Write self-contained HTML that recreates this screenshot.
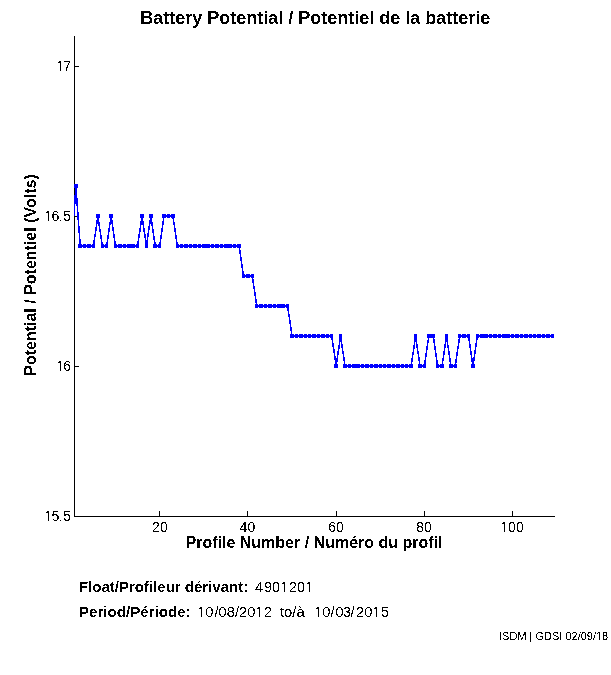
<!DOCTYPE html>
<html><head><meta charset="utf-8"><style>
html,body{margin:0;padding:0;background:#fff;}
body{width:611px;height:675px;overflow:hidden;position:relative;}
svg{position:absolute;left:0;top:0;display:block;}
text{font-family:"Liberation Sans",sans-serif;fill:#000;}
.b{font-weight:bold;}
</style></head><body>
<svg width="611" height="675" viewBox="0 0 611 675">
<defs>
<filter id="th" filterUnits="userSpaceOnUse" x="0" y="0" width="611" height="675" color-interpolation-filters="sRGB"><feComponentTransfer><feFuncA type="discrete" tableValues="0 1"/></feComponentTransfer></filter>
<mask id="nf" maskUnits="userSpaceOnUse" x="0" y="0" width="611" height="675"><rect width="611" height="675" fill="#fff"/><rect x="500.06" y="530.65" width="3.82" height="1.85" fill="#000"/><rect x="505.12" y="530.65" width="3.03" height="1.85" fill="#000"/><rect x="56.06" y="69.65" width="3.82" height="1.85" fill="#000"/><rect x="61.12" y="69.65" width="3.03" height="1.85" fill="#000"/><rect x="44.06" y="219.65" width="3.82" height="1.85" fill="#000"/><rect x="49.12" y="219.65" width="3.03" height="1.85" fill="#000"/><rect x="56.06" y="369.65" width="3.82" height="1.85" fill="#000"/><rect x="61.12" y="369.65" width="3.03" height="1.85" fill="#000"/><rect x="44.06" y="519.65" width="3.82" height="1.85" fill="#000"/><rect x="49.12" y="519.65" width="3.03" height="1.85" fill="#000"/><rect x="279.94" y="590.65" width="3.92" height="1.85" fill="#000"/><rect x="285.13" y="590.65" width="3.11" height="1.85" fill="#000"/><rect x="304.94" y="590.65" width="3.92" height="1.85" fill="#000"/><rect x="310.13" y="590.65" width="3.11" height="1.85" fill="#000"/><rect x="196.82" y="615.65" width="4.02" height="1.85" fill="#000"/><rect x="202.15" y="615.65" width="3.20" height="1.85" fill="#000"/><rect x="254.82" y="615.65" width="4.02" height="1.85" fill="#000"/><rect x="260.15" y="615.65" width="3.20" height="1.85" fill="#000"/><rect x="313.82" y="615.65" width="4.02" height="1.85" fill="#000"/><rect x="319.15" y="615.65" width="3.20" height="1.85" fill="#000"/><rect x="371.82" y="615.65" width="4.02" height="1.85" fill="#000"/><rect x="377.15" y="615.65" width="3.20" height="1.85" fill="#000"/><rect x="595.95" y="638.65" width="3.07" height="1.85" fill="#000"/><rect x="599.99" y="638.65" width="2.38" height="1.85" fill="#000"/></mask>
</defs>
<rect width="611" height="675" fill="#fff"/>
<g shape-rendering="crispEdges">
<path d="M74 36h1v481h-1zM74 516h481v1h-481zM159 511h1v5h-1zM247 511h1v5h-1zM336 511h1v5h-1zM424 511h1v5h-1zM512 511h1v5h-1zM75 66h4v1h-4zM75 216h4v1h-4zM75 366h4v1h-4zM75 516h4v1h-4z" fill="#000"/>
<path d="M74 184h4v1h-4zM74 185h4v1h-4zM74 186h4v1h-4zM74 187h4v1h-4zM75 188h2v1h-2zM75 189h2v1h-2zM75 190h2v1h-2zM75 191h2v1h-2zM75 192h2v1h-2zM75 193h2v1h-2zM75 194h2v1h-2zM74 195h3v1h-3zM74 196h3v1h-3zM74 197h3v1h-3zM74 198h4v1h-4zM74 199h4v1h-4zM74 200h4v1h-4zM74 201h4v1h-4zM74 202h4v1h-4zM74 203h4v1h-4zM74 204h1v1h-1zM76 204h2v1h-2zM74 205h1v1h-1zM76 205h2v1h-2zM74 206h1v1h-1zM77 206h1v1h-1zM74 207h1v1h-1zM77 207h1v1h-1zM74 208h1v1h-1zM77 208h1v1h-1zM74 209h1v1h-1zM77 209h1v1h-1zM74 210h1v1h-1zM77 210h1v1h-1zM74 211h1v1h-1zM77 211h1v1h-1zM74 212h1v1h-1zM77 212h2v1h-2zM74 213h1v1h-1zM77 213h2v1h-2zM74 214h1v1h-1zM77 214h2v1h-2zM96 214h4v1h-4zM109 214h4v1h-4zM140 214h4v1h-4zM149 214h4v1h-4zM162 214h4v1h-4zM167 214h3v1h-3zM171 214h4v1h-4zM74 215h1v1h-1zM77 215h2v1h-2zM96 215h4v1h-4zM109 215h4v1h-4zM140 215h4v1h-4zM149 215h4v1h-4zM162 215h13v1h-13zM77 216h2v1h-2zM96 216h4v1h-4zM109 216h4v1h-4zM140 216h4v1h-4zM149 216h4v1h-4zM162 216h13v1h-13zM77 217h2v1h-2zM96 217h4v1h-4zM109 217h4v1h-4zM140 217h4v1h-4zM149 217h4v1h-4zM162 217h4v1h-4zM167 217h3v1h-3zM171 217h4v1h-4zM77 218h2v1h-2zM97 218h2v1h-2zM110 218h2v1h-2zM141 218h2v1h-2zM150 218h2v1h-2zM163 218h1v1h-1zM172 218h2v1h-2zM77 219h2v1h-2zM97 219h2v1h-2zM110 219h2v1h-2zM141 219h2v1h-2zM150 219h2v1h-2zM163 219h1v1h-1zM173 219h1v1h-1zM78 220h1v1h-1zM96 220h3v1h-3zM110 220h3v1h-3zM141 220h2v1h-2zM149 220h3v1h-3zM163 220h1v1h-1zM173 220h1v1h-1zM78 221h1v1h-1zM96 221h3v1h-3zM110 221h3v1h-3zM140 221h4v1h-4zM149 221h3v1h-3zM162 221h2v1h-2zM173 221h1v1h-1zM78 222h1v1h-1zM96 222h4v1h-4zM109 222h4v1h-4zM140 222h4v1h-4zM149 222h4v1h-4zM162 222h2v1h-2zM173 222h2v1h-2zM78 223h1v1h-1zM96 223h4v1h-4zM109 223h4v1h-4zM140 223h4v1h-4zM149 223h4v1h-4zM162 223h2v1h-2zM173 223h2v1h-2zM78 224h1v1h-1zM96 224h1v1h-1zM98 224h2v1h-2zM109 224h2v1h-2zM112 224h1v1h-1zM140 224h4v1h-4zM149 224h1v1h-1zM151 224h2v1h-2zM162 224h2v1h-2zM173 224h2v1h-2zM78 225h1v1h-1zM96 225h1v1h-1zM98 225h2v1h-2zM109 225h1v1h-1zM112 225h1v1h-1zM140 225h1v1h-1zM143 225h1v1h-1zM149 225h1v1h-1zM151 225h2v1h-2zM162 225h1v1h-1zM174 225h1v1h-1zM78 226h2v1h-2zM96 226h1v1h-1zM99 226h1v1h-1zM109 226h1v1h-1zM112 226h1v1h-1zM140 226h1v1h-1zM143 226h1v1h-1zM148 226h2v1h-2zM152 226h1v1h-1zM162 226h1v1h-1zM174 226h1v1h-1zM78 227h2v1h-2zM95 227h2v1h-2zM99 227h1v1h-1zM109 227h1v1h-1zM112 227h2v1h-2zM140 227h1v1h-1zM143 227h1v1h-1zM148 227h2v1h-2zM152 227h1v1h-1zM162 227h1v1h-1zM174 227h1v1h-1zM78 228h2v1h-2zM95 228h2v1h-2zM99 228h1v1h-1zM108 228h2v1h-2zM112 228h2v1h-2zM139 228h2v1h-2zM143 228h2v1h-2zM148 228h2v1h-2zM152 228h1v1h-1zM161 228h2v1h-2zM174 228h2v1h-2zM78 229h2v1h-2zM95 229h2v1h-2zM99 229h2v1h-2zM108 229h2v1h-2zM112 229h2v1h-2zM139 229h2v1h-2zM143 229h2v1h-2zM148 229h2v1h-2zM152 229h2v1h-2zM161 229h2v1h-2zM174 229h2v1h-2zM78 230h2v1h-2zM95 230h2v1h-2zM99 230h2v1h-2zM108 230h2v1h-2zM112 230h2v1h-2zM139 230h2v1h-2zM143 230h2v1h-2zM148 230h1v1h-1zM152 230h2v1h-2zM161 230h2v1h-2zM174 230h2v1h-2zM78 231h2v1h-2zM95 231h1v1h-1zM99 231h2v1h-2zM108 231h2v1h-2zM113 231h1v1h-1zM139 231h2v1h-2zM143 231h2v1h-2zM148 231h1v1h-1zM152 231h2v1h-2zM161 231h2v1h-2zM174 231h2v1h-2zM78 232h2v1h-2zM95 232h1v1h-1zM100 232h1v1h-1zM108 232h1v1h-1zM113 232h1v1h-1zM139 232h1v1h-1zM144 232h1v1h-1zM148 232h1v1h-1zM152 232h2v1h-2zM161 232h1v1h-1zM175 232h1v1h-1zM79 233h1v1h-1zM95 233h1v1h-1zM100 233h1v1h-1zM108 233h1v1h-1zM113 233h1v1h-1zM139 233h1v1h-1zM144 233h1v1h-1zM147 233h2v1h-2zM153 233h1v1h-1zM161 233h1v1h-1zM175 233h1v1h-1zM79 234h1v1h-1zM94 234h2v1h-2zM100 234h1v1h-1zM108 234h1v1h-1zM113 234h2v1h-2zM138 234h2v1h-2zM144 234h2v1h-2zM147 234h2v1h-2zM153 234h1v1h-1zM161 234h1v1h-1zM175 234h1v1h-1zM79 235h1v1h-1zM94 235h2v1h-2zM100 235h2v1h-2zM107 235h2v1h-2zM113 235h2v1h-2zM138 235h2v1h-2zM144 235h2v1h-2zM147 235h2v1h-2zM153 235h1v1h-1zM160 235h2v1h-2zM175 235h2v1h-2zM79 236h1v1h-1zM94 236h2v1h-2zM100 236h2v1h-2zM107 236h2v1h-2zM113 236h2v1h-2zM138 236h2v1h-2zM144 236h2v1h-2zM147 236h2v1h-2zM153 236h2v1h-2zM160 236h2v1h-2zM175 236h2v1h-2zM79 237h1v1h-1zM94 237h1v1h-1zM100 237h2v1h-2zM107 237h2v1h-2zM113 237h2v1h-2zM138 237h2v1h-2zM144 237h2v1h-2zM147 237h1v1h-1zM153 237h2v1h-2zM160 237h2v1h-2zM175 237h2v1h-2zM79 238h1v1h-1zM94 238h1v1h-1zM100 238h2v1h-2zM107 238h2v1h-2zM114 238h1v1h-1zM138 238h1v1h-1zM145 238h1v1h-1zM147 238h1v1h-1zM153 238h2v1h-2zM160 238h2v1h-2zM175 238h2v1h-2zM79 239h2v1h-2zM94 239h1v1h-1zM101 239h1v1h-1zM107 239h1v1h-1zM114 239h1v1h-1zM138 239h1v1h-1zM145 239h1v1h-1zM147 239h1v1h-1zM153 239h2v1h-2zM160 239h1v1h-1zM176 239h1v1h-1zM79 240h2v1h-2zM93 240h2v1h-2zM101 240h1v1h-1zM107 240h1v1h-1zM114 240h1v1h-1zM138 240h1v1h-1zM145 240h3v1h-3zM154 240h1v1h-1zM160 240h1v1h-1zM176 240h1v1h-1zM79 241h2v1h-2zM93 241h2v1h-2zM101 241h1v1h-1zM107 241h1v1h-1zM114 241h2v1h-2zM137 241h2v1h-2zM145 241h3v1h-3zM154 241h1v1h-1zM160 241h1v1h-1zM176 241h1v1h-1zM79 242h2v1h-2zM93 242h2v1h-2zM101 242h2v1h-2zM106 242h2v1h-2zM114 242h2v1h-2zM137 242h2v1h-2zM145 242h3v1h-3zM154 242h2v1h-2zM159 242h2v1h-2zM176 242h2v1h-2zM79 243h2v1h-2zM93 243h2v1h-2zM101 243h2v1h-2zM106 243h2v1h-2zM114 243h2v1h-2zM137 243h2v1h-2zM145 243h3v1h-3zM154 243h2v1h-2zM159 243h2v1h-2zM176 243h2v1h-2zM78 244h4v1h-4zM83 244h3v1h-3zM87 244h4v1h-4zM92 244h3v1h-3zM101 244h3v1h-3zM105 244h3v1h-3zM114 244h3v1h-3zM118 244h4v1h-4zM123 244h3v1h-3zM127 244h8v1h-8zM136 244h3v1h-3zM145 244h3v1h-3zM153 244h4v1h-4zM158 244h3v1h-3zM176 244h3v1h-3zM180 244h3v1h-3zM184 244h4v1h-4zM189 244h3v1h-3zM193 244h4v1h-4zM198 244h3v1h-3zM202 244h8v1h-8zM211 244h3v1h-3zM215 244h4v1h-4zM220 244h3v1h-3zM224 244h8v1h-8zM233 244h3v1h-3zM237 244h4v1h-4zM78 245h17v1h-17zM101 245h7v1h-7zM114 245h25v1h-25zM145 245h3v1h-3zM153 245h8v1h-8zM176 245h65v1h-65zM78 246h17v1h-17zM101 246h7v1h-7zM114 246h25v1h-25zM145 246h3v1h-3zM153 246h8v1h-8zM176 246h65v1h-65zM78 247h4v1h-4zM83 247h3v1h-3zM87 247h4v1h-4zM92 247h3v1h-3zM101 247h3v1h-3zM105 247h3v1h-3zM114 247h3v1h-3zM118 247h4v1h-4zM123 247h3v1h-3zM127 247h8v1h-8zM136 247h3v1h-3zM145 247h3v1h-3zM153 247h4v1h-4zM158 247h3v1h-3zM176 247h3v1h-3zM180 247h3v1h-3zM184 247h4v1h-4zM189 247h3v1h-3zM193 247h4v1h-4zM198 247h3v1h-3zM202 247h8v1h-8zM211 247h3v1h-3zM215 247h4v1h-4zM220 247h3v1h-3zM224 247h8v1h-8zM233 247h3v1h-3zM237 247h4v1h-4zM239 248h1v1h-1zM239 249h1v1h-1zM239 250h2v1h-2zM239 251h2v1h-2zM239 252h2v1h-2zM239 253h2v1h-2zM240 254h1v1h-1zM240 255h1v1h-1zM240 256h1v1h-1zM240 257h2v1h-2zM240 258h2v1h-2zM240 259h2v1h-2zM240 260h2v1h-2zM241 261h1v1h-1zM241 262h1v1h-1zM241 263h1v1h-1zM241 264h2v1h-2zM241 265h2v1h-2zM241 266h2v1h-2zM241 267h2v1h-2zM242 268h1v1h-1zM242 269h1v1h-1zM242 270h1v1h-1zM242 271h2v1h-2zM242 272h2v1h-2zM242 273h2v1h-2zM242 274h3v1h-3zM246 274h4v1h-4zM251 274h3v1h-3zM242 275h12v1h-12zM242 276h12v1h-12zM242 277h3v1h-3zM246 277h4v1h-4zM251 277h3v1h-3zM252 278h1v1h-1zM252 279h2v1h-2zM252 280h2v1h-2zM252 281h2v1h-2zM252 282h2v1h-2zM253 283h1v1h-1zM253 284h1v1h-1zM253 285h1v1h-1zM253 286h2v1h-2zM253 287h2v1h-2zM253 288h2v1h-2zM254 289h1v1h-1zM254 290h1v1h-1zM254 291h1v1h-1zM254 292h2v1h-2zM254 293h2v1h-2zM254 294h2v1h-2zM254 295h2v1h-2zM255 296h1v1h-1zM255 297h1v1h-1zM255 298h1v1h-1zM255 299h2v1h-2zM255 300h2v1h-2zM255 301h2v1h-2zM255 302h2v1h-2zM256 303h1v1h-1zM255 304h3v1h-3zM259 304h4v1h-4zM264 304h3v1h-3zM268 304h4v1h-4zM273 304h3v1h-3zM277 304h8v1h-8zM286 304h3v1h-3zM255 305h34v1h-34zM255 306h34v1h-34zM255 307h3v1h-3zM259 307h4v1h-4zM264 307h3v1h-3zM268 307h4v1h-4zM273 307h3v1h-3zM277 307h8v1h-8zM286 307h3v1h-3zM287 308h2v1h-2zM287 309h2v1h-2zM287 310h2v1h-2zM288 311h1v1h-1zM288 312h1v1h-1zM288 313h1v1h-1zM288 314h2v1h-2zM288 315h2v1h-2zM288 316h2v1h-2zM289 317h1v1h-1zM289 318h1v1h-1zM289 319h1v1h-1zM289 320h2v1h-2zM289 321h2v1h-2zM289 322h2v1h-2zM289 323h2v1h-2zM290 324h1v1h-1zM290 325h1v1h-1zM290 326h1v1h-1zM290 327h2v1h-2zM290 328h2v1h-2zM290 329h2v1h-2zM290 330h2v1h-2zM291 331h1v1h-1zM291 332h1v1h-1zM291 333h1v1h-1zM290 334h4v1h-4zM295 334h3v1h-3zM299 334h4v1h-4zM304 334h3v1h-3zM308 334h3v1h-3zM312 334h4v1h-4zM317 334h3v1h-3zM321 334h4v1h-4zM326 334h3v1h-3zM330 334h3v1h-3zM339 334h3v1h-3zM414 334h3v1h-3zM427 334h8v1h-8zM445 334h3v1h-3zM458 334h3v1h-3zM462 334h4v1h-4zM467 334h3v1h-3zM476 334h3v1h-3zM480 334h8v1h-8zM489 334h3v1h-3zM493 334h4v1h-4zM498 334h3v1h-3zM502 334h8v1h-8zM511 334h3v1h-3zM515 334h4v1h-4zM520 334h3v1h-3zM524 334h4v1h-4zM529 334h3v1h-3zM533 334h3v1h-3zM537 334h4v1h-4zM542 334h3v1h-3zM546 334h4v1h-4zM551 334h3v1h-3zM290 335h43v1h-43zM339 335h3v1h-3zM414 335h3v1h-3zM427 335h8v1h-8zM445 335h3v1h-3zM458 335h12v1h-12zM476 335h78v1h-78zM290 336h43v1h-43zM339 336h3v1h-3zM414 336h3v1h-3zM427 336h8v1h-8zM445 336h3v1h-3zM458 336h12v1h-12zM476 336h78v1h-78zM290 337h4v1h-4zM295 337h3v1h-3zM299 337h4v1h-4zM304 337h3v1h-3zM308 337h3v1h-3zM312 337h4v1h-4zM317 337h3v1h-3zM321 337h4v1h-4zM326 337h3v1h-3zM330 337h3v1h-3zM339 337h3v1h-3zM414 337h3v1h-3zM427 337h8v1h-8zM445 337h3v1h-3zM458 337h3v1h-3zM462 337h4v1h-4zM467 337h3v1h-3zM476 337h3v1h-3zM480 337h8v1h-8zM489 337h3v1h-3zM493 337h4v1h-4zM498 337h3v1h-3zM502 337h8v1h-8zM511 337h3v1h-3zM515 337h4v1h-4zM520 337h3v1h-3zM524 337h4v1h-4zM529 337h3v1h-3zM533 337h3v1h-3zM537 337h4v1h-4zM542 337h3v1h-3zM546 337h4v1h-4zM551 337h3v1h-3zM331 338h2v1h-2zM339 338h3v1h-3zM414 338h3v1h-3zM428 338h1v1h-1zM433 338h1v1h-1zM445 338h3v1h-3zM459 338h1v1h-1zM468 338h2v1h-2zM476 338h2v1h-2zM331 339h2v1h-2zM339 339h3v1h-3zM414 339h3v1h-3zM428 339h1v1h-1zM433 339h2v1h-2zM445 339h3v1h-3zM458 339h2v1h-2zM468 339h2v1h-2zM476 339h2v1h-2zM332 340h1v1h-1zM339 340h3v1h-3zM414 340h3v1h-3zM427 340h2v1h-2zM433 340h2v1h-2zM445 340h3v1h-3zM458 340h2v1h-2zM468 340h2v1h-2zM476 340h1v1h-1zM332 341h1v1h-1zM339 341h3v1h-3zM414 341h3v1h-3zM427 341h2v1h-2zM433 341h2v1h-2zM445 341h3v1h-3zM458 341h2v1h-2zM469 341h1v1h-1zM476 341h1v1h-1zM332 342h1v1h-1zM339 342h1v1h-1zM341 342h1v1h-1zM414 342h1v1h-1zM416 342h1v1h-1zM427 342h2v1h-2zM433 342h2v1h-2zM445 342h1v1h-1zM447 342h1v1h-1zM458 342h2v1h-2zM469 342h1v1h-1zM476 342h1v1h-1zM332 343h2v1h-2zM339 343h1v1h-1zM341 343h1v1h-1zM414 343h1v1h-1zM416 343h1v1h-1zM427 343h1v1h-1zM434 343h1v1h-1zM445 343h1v1h-1zM447 343h1v1h-1zM458 343h1v1h-1zM469 343h1v1h-1zM475 343h2v1h-2zM332 344h2v1h-2zM339 344h1v1h-1zM341 344h2v1h-2zM414 344h1v1h-1zM416 344h2v1h-2zM427 344h1v1h-1zM434 344h1v1h-1zM444 344h2v1h-2zM447 344h1v1h-1zM458 344h1v1h-1zM469 344h2v1h-2zM475 344h2v1h-2zM332 345h2v1h-2zM338 345h2v1h-2zM341 345h2v1h-2zM413 345h2v1h-2zM416 345h2v1h-2zM427 345h1v1h-1zM434 345h1v1h-1zM444 345h2v1h-2zM447 345h2v1h-2zM458 345h1v1h-1zM469 345h2v1h-2zM475 345h2v1h-2zM332 346h2v1h-2zM338 346h2v1h-2zM341 346h2v1h-2zM413 346h2v1h-2zM416 346h2v1h-2zM426 346h2v1h-2zM434 346h2v1h-2zM444 346h2v1h-2zM447 346h2v1h-2zM457 346h2v1h-2zM469 346h2v1h-2zM475 346h2v1h-2zM333 347h1v1h-1zM338 347h2v1h-2zM341 347h2v1h-2zM413 347h2v1h-2zM416 347h2v1h-2zM426 347h2v1h-2zM434 347h2v1h-2zM444 347h2v1h-2zM447 347h2v1h-2zM457 347h2v1h-2zM469 347h2v1h-2zM475 347h1v1h-1zM333 348h1v1h-1zM338 348h2v1h-2zM342 348h1v1h-1zM413 348h2v1h-2zM417 348h1v1h-1zM426 348h2v1h-2zM434 348h2v1h-2zM444 348h1v1h-1zM448 348h1v1h-1zM457 348h2v1h-2zM470 348h1v1h-1zM475 348h1v1h-1zM333 349h2v1h-2zM338 349h1v1h-1zM342 349h1v1h-1zM413 349h1v1h-1zM417 349h1v1h-1zM426 349h2v1h-2zM434 349h2v1h-2zM444 349h1v1h-1zM448 349h1v1h-1zM457 349h1v1h-1zM470 349h1v1h-1zM475 349h1v1h-1zM333 350h2v1h-2zM338 350h1v1h-1zM342 350h1v1h-1zM413 350h1v1h-1zM417 350h1v1h-1zM426 350h1v1h-1zM435 350h1v1h-1zM444 350h1v1h-1zM448 350h1v1h-1zM457 350h1v1h-1zM470 350h1v1h-1zM474 350h2v1h-2zM333 351h2v1h-2zM337 351h2v1h-2zM342 351h2v1h-2zM413 351h1v1h-1zM417 351h2v1h-2zM426 351h1v1h-1zM435 351h1v1h-1zM443 351h2v1h-2zM448 351h2v1h-2zM457 351h1v1h-1zM470 351h2v1h-2zM474 351h2v1h-2zM333 352h2v1h-2zM337 352h2v1h-2zM342 352h2v1h-2zM412 352h2v1h-2zM417 352h2v1h-2zM426 352h1v1h-1zM435 352h1v1h-1zM443 352h2v1h-2zM448 352h2v1h-2zM456 352h2v1h-2zM470 352h2v1h-2zM474 352h2v1h-2zM334 353h1v1h-1zM337 353h2v1h-2zM342 353h2v1h-2zM412 353h2v1h-2zM417 353h2v1h-2zM425 353h2v1h-2zM435 353h2v1h-2zM443 353h2v1h-2zM448 353h2v1h-2zM456 353h2v1h-2zM470 353h2v1h-2zM474 353h2v1h-2zM334 354h1v1h-1zM337 354h2v1h-2zM343 354h1v1h-1zM412 354h2v1h-2zM418 354h1v1h-1zM425 354h2v1h-2zM435 354h2v1h-2zM443 354h2v1h-2zM448 354h2v1h-2zM456 354h2v1h-2zM470 354h2v1h-2zM474 354h1v1h-1zM334 355h1v1h-1zM337 355h1v1h-1zM343 355h1v1h-1zM412 355h1v1h-1zM418 355h1v1h-1zM425 355h2v1h-2zM435 355h2v1h-2zM443 355h1v1h-1zM449 355h1v1h-1zM456 355h2v1h-2zM471 355h1v1h-1zM474 355h1v1h-1zM334 356h2v1h-2zM337 356h1v1h-1zM343 356h1v1h-1zM412 356h1v1h-1zM418 356h1v1h-1zM425 356h2v1h-2zM435 356h2v1h-2zM443 356h1v1h-1zM449 356h1v1h-1zM456 356h1v1h-1zM471 356h1v1h-1zM474 356h1v1h-1zM334 357h2v1h-2zM337 357h1v1h-1zM343 357h2v1h-2zM412 357h1v1h-1zM418 357h2v1h-2zM425 357h1v1h-1zM436 357h1v1h-1zM443 357h1v1h-1zM449 357h1v1h-1zM456 357h1v1h-1zM471 357h1v1h-1zM473 357h2v1h-2zM334 358h4v1h-4zM343 358h2v1h-2zM411 358h2v1h-2zM418 358h2v1h-2zM425 358h1v1h-1zM436 358h1v1h-1zM442 358h2v1h-2zM449 358h2v1h-2zM456 358h1v1h-1zM471 358h4v1h-4zM334 359h4v1h-4zM343 359h2v1h-2zM411 359h2v1h-2zM418 359h2v1h-2zM425 359h1v1h-1zM436 359h1v1h-1zM442 359h2v1h-2zM449 359h2v1h-2zM455 359h2v1h-2zM471 359h4v1h-4zM335 360h3v1h-3zM343 360h2v1h-2zM411 360h2v1h-2zM418 360h2v1h-2zM424 360h2v1h-2zM436 360h2v1h-2zM442 360h2v1h-2zM449 360h2v1h-2zM455 360h2v1h-2zM471 360h4v1h-4zM335 361h3v1h-3zM344 361h1v1h-1zM411 361h2v1h-2zM419 361h1v1h-1zM424 361h2v1h-2zM436 361h2v1h-2zM442 361h1v1h-1zM449 361h2v1h-2zM455 361h2v1h-2zM471 361h3v1h-3zM335 362h2v1h-2zM344 362h1v1h-1zM411 362h1v1h-1zM419 362h1v1h-1zM424 362h2v1h-2zM436 362h2v1h-2zM442 362h1v1h-1zM450 362h1v1h-1zM455 362h2v1h-2zM472 362h2v1h-2zM335 363h2v1h-2zM344 363h1v1h-1zM411 363h1v1h-1zM419 363h1v1h-1zM424 363h2v1h-2zM436 363h2v1h-2zM442 363h1v1h-1zM450 363h1v1h-1zM455 363h1v1h-1zM472 363h2v1h-2zM334 364h4v1h-4zM343 364h4v1h-4zM348 364h3v1h-3zM352 364h8v1h-8zM361 364h3v1h-3zM365 364h4v1h-4zM370 364h3v1h-3zM374 364h4v1h-4zM379 364h3v1h-3zM383 364h3v1h-3zM387 364h4v1h-4zM392 364h3v1h-3zM396 364h4v1h-4zM401 364h3v1h-3zM405 364h3v1h-3zM409 364h4v1h-4zM418 364h4v1h-4zM423 364h3v1h-3zM436 364h3v1h-3zM440 364h4v1h-4zM449 364h4v1h-4zM454 364h3v1h-3zM471 364h4v1h-4zM334 365h4v1h-4zM343 365h70v1h-70zM418 365h8v1h-8zM436 365h8v1h-8zM449 365h8v1h-8zM471 365h4v1h-4zM334 366h4v1h-4zM343 366h70v1h-70zM418 366h8v1h-8zM436 366h8v1h-8zM449 366h8v1h-8zM471 366h4v1h-4zM334 367h4v1h-4zM343 367h4v1h-4zM348 367h3v1h-3zM352 367h8v1h-8zM361 367h3v1h-3zM365 367h4v1h-4zM370 367h3v1h-3zM374 367h4v1h-4zM379 367h3v1h-3zM383 367h3v1h-3zM387 367h4v1h-4zM392 367h3v1h-3zM396 367h4v1h-4zM401 367h3v1h-3zM405 367h3v1h-3zM409 367h4v1h-4zM418 367h4v1h-4zM423 367h3v1h-3zM436 367h3v1h-3zM440 367h4v1h-4zM449 367h4v1h-4zM454 367h3v1h-3zM471 367h4v1h-4z" fill="#0000ff"/>
</g>
<g filter="url(#th)"><g mask="url(#nf)">
<g font-size="14"><text x="159.9" y="532" text-anchor="middle">20</text><text x="247.4" y="532" text-anchor="middle">40</text><text x="336.0" y="532" text-anchor="middle">60</text><text x="424.0" y="532" text-anchor="middle">80</text><text x="500.36 508.10 515.88" y="532">100</text><text x="56.36 63.20" y="71">17</text><text x="44.36 51.53 58.31 63.20" y="221">16.5</text><text x="56.36 63.20" y="371">16</text><text x="44.36 51.53 58.31 63.20" y="521">15.5</text></g>
<text class="b" x="315.3" y="24" font-size="18" text-anchor="middle">Battery Potential / Potentiel de la batterie</text>
<text class="b" x="314" y="548" font-size="16" text-anchor="middle">Profile Number / Numéro du profil</text>
<text class="b" transform="translate(36,275) rotate(-90)" x="0" y="0" font-size="16" text-anchor="middle">Potential / Potentiel (Volts)</text>
<text class="b" x="79" y="592" font-size="15">Float/Profileur dérivant:</text>
<text x="255.00 264.00 272.00 280.24 289.00 297.02 305.24" y="592" font-size="14.4">4901201</text>
<text class="b" x="79" y="617" font-size="15.1">Period/Période:</text>
<text x="197.12 205.22 214.45 218.56 226.80 235.02 239.12 247.36 255.12 263.81" y="617" font-size="14.8">10/08/2012</text>
<text x="280" y="617" font-size="14.8">to/à</text>
<text x="314.12 322.22 330.45 335.56 342.80 350.52 356.12 364.36 372.12 380.81" y="617" font-size="14.8">10/03/2015</text>
<text x="499.00 502.05 509.39 517.33 526.50 529.55 532.41 535.47 544.02 551.97 559.30 562.36 565.41 571.53 577.64 580.70 586.83 592.94 596.25 602.11" y="640" font-size="11">ISDM | GDSI 02/09/18</text>
</g></g>
</svg>
</body></html>
